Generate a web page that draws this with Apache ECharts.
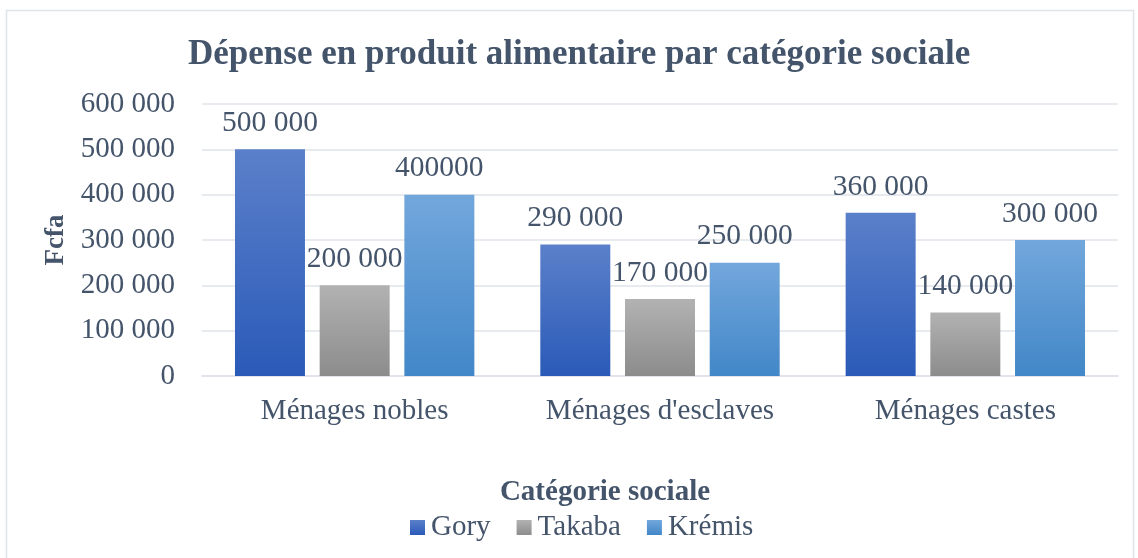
<!DOCTYPE html>
<html>
<head>
<meta charset="utf-8">
<script src="https://cdn.jsdelivr.net/npm/echarts@6/dist/echarts.min.js"></script>
<style>
  html, body { margin: 0; padding: 0; background: #ffffff; }
  #chart { width: 1138px; height: 558px; }
</style>
</head>
<body>
<div id="chart"></div>
<script>
// Categories and values (Fcfa)
const categories = ["Ménages nobles", "Ménages d'esclaves", "Ménages castes"];
const seriesNames = ["Gory", "Takaba", "Krémis"];
const gory = [500000, 290000, 360000];
const takaba = [200000, 170000, 140000];
const kremis = [400000, 250000, 300000];
// Data label texts as printed on the chart
const goryLabels = ["500 000", "290 000", "360 000"];
const takabaLabels = ["200 000", "170 000", "140 000"];
const kremisLabels = ["400000", "250 000", "300 000"];
const yTicks = [0, 100000, 200000, 300000, 400000, 500000, 600000];

const textColor = '#44546A';
const font = 'Liberation Serif, Times New Roman, serif';

function grad(top, bottom) {
  return new echarts.graphic.LinearGradient(0, 0, 0, 1, [
    { offset: 0, color: top },
    { offset: 1, color: bottom }
  ]);
}

function fmt(v) {
  return String(v).replace(/\B(?=(\d{3})+(?!\d))/g, ' ');
}

function barSeries(name, values, labels, top, bottom) {
  return {
    name: name,
    type: 'bar',
    data: values,
    barGap: '21%',
    barCategoryGap: '21.6%',
    itemStyle: { color: grad(top, bottom) },
    label: {
      show: true,
      position: 'top',
      distance: 11,
      color: textColor,
      fontFamily: font,
      fontSize: 29.5,
      formatter: p => labels[p.dataIndex]
    }
  };
}

const chart = echarts.init(document.getElementById('chart'), null, { renderer: 'canvas' });
chart.setOption({
  animation: false,
  backgroundColor: '#ffffff',
  graphic: [{
    type: 'rect',
    shape: { x: 6.5, y: 10.5, width: 1127, height: 560 },
    style: { fill: 'none', stroke: '#dfe3ea', lineWidth: 1.5 },
    silent: true
  }, {
    // horizontal axis title, placed above the legend
    type: 'text',
    x: 605,
    y: 493,
    silent: true,
    style: {
      text: 'Catégorie sociale',
      fill: textColor,
      font: 'bold 29px ' + font,
      textAlign: 'center',
      textVerticalAlign: 'middle'
    }
  }],
  title: {
    text: 'Dépense en produit alimentaire par catégorie sociale',
    left: 183,
    top: 32,
    textStyle: { color: textColor, fontFamily: font, fontWeight: 'bold', fontSize: 35 }
  },
  grid: { left: 202, right: 20, top: 104, bottom: 182 },
  legend: {
    data: seriesNames,
    top: 508,
    left: 405,
    itemWidth: 15,
    itemHeight: 15,
    itemGap: 26,
    icon: 'rect',
    textStyle: { color: textColor, fontFamily: font, fontSize: 29, padding: [0, 0, 0, 1] }
  },
  xAxis: {
    type: 'category',
    data: categories,
    axisLine: { show: true, lineStyle: { color: '#dfe3ea', width: 1.5 } },
    axisTick: { show: false },
    axisLabel: { color: textColor, fontFamily: font, fontSize: 29, margin: 21 }
  },
  yAxis: {
    type: 'value',
    min: yTicks[0],
    max: yTicks[yTicks.length - 1],
    interval: yTicks[1] - yTicks[0],
    name: 'Fcfa',
    nameLocation: 'middle',
    nameGap: 129,
    nameRotate: 90,
    nameTextStyle: { color: textColor, fontFamily: font, fontWeight: 'bold', fontSize: 27 },
    axisLine: { show: false },
    axisTick: { show: false },
    splitLine: { lineStyle: { color: '#dfe3ea', width: 1.5 } },
    axisLabel: { color: textColor, fontFamily: font, fontSize: 29, margin: 27, formatter: v => fmt(v) }
  },
  series: [
    barSeries(seriesNames[0], gory, goryLabels, '#5B80CA', '#2A5AB8'),
    barSeries(seriesNames[1], takaba, takabaLabels, '#B2B2B2', '#8C8C8C'),
    barSeries(seriesNames[2], kremis, kremisLabels, '#72A7DC', '#4287C8')
  ]
});
</script>
</body>
</html>
